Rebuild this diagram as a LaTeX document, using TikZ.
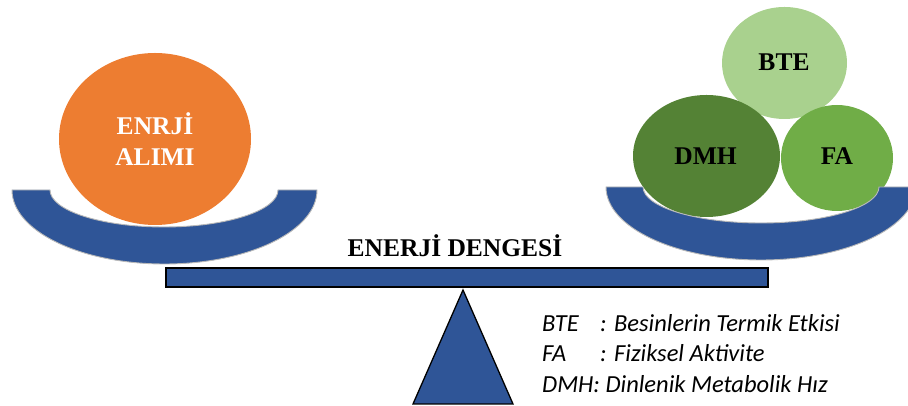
\documentclass[tikz,border=0pt]{standalone}
\usepackage{fontspec}
\setmainfont{Liberation Serif}
\newfontfamily\legendfont{Carlito}
\usetikzlibrary{shapes.geometric}
\definecolor{bowlblue}{HTML}{2F5597}
\definecolor{orangeC}{HTML}{ED7D31}
\definecolor{lightG}{HTML}{A9D18E}
\definecolor{darkG}{HTML}{548235}
\definecolor{midG}{HTML}{70AD47}
\tikzset{
  blob/.style={ellipse, inner sep=0pt, align=center, font=\fontsize{25.5}{31}\selectfont\bfseries},
  bowl/.style={fill=bowlblue, draw=gray!55, line width=0.9pt},
  solidpart/.style={fill=bowlblue, draw=black, line width=1.3pt},
  blobtext/.style={anchor=base, inner sep=0pt, font=\fontsize{25.5}{25.5}\selectfont\bfseries},
  legend/.style={anchor=base west, inner sep=0pt, font=\legendfont\itshape\fontsize{24.5}{24.5}\selectfont}
}
\begin{document}
\begin{tikzpicture}[x=1pt,y=1pt]
\useasboundingbox (0,0) rectangle (908,406);
\clip (0,0) rectangle (908,406);

% left pan content
\node (alim) [blob, fill=orangeC, text=white, minimum width=192pt, minimum height=172pt] at (155,267) {ENRJİ\\ALIMI};

% right pan content
\node (bte) [blob, fill=lightG, minimum width=125pt, minimum height=112pt] at (784.5,343) {};
\node (dmh) [blob, fill=darkG, minimum width=147pt, minimum height=122pt] at (706.5,250) {};
\node (fa) [blob, fill=midG, minimum width=112pt, minimum height=106pt] at (837,248) {};
\node (btet) [blobtext] at (784,335) {BTE};
\node (dmht) [blobtext] at (705.5,241) {DMH};
\node (fat) [blobtext] at (837,241) {FA};

% bowls
\path[bowl] (12,216) arc[start angle=180, end angle=360, x radius=152.5, y radius=74]
  -- (278,216) arc[start angle=0, end angle=-180, x radius=114, y radius=37] -- cycle;
\path[bowl] (606,219) arc[start angle=180, end angle=360, x radius=155, y radius=73]
  -- (879,219) arc[start angle=0, end angle=-180, x radius=118, y radius=36] -- cycle;

% title
\node (title) [blobtext] at (455,149) {ENERJİ DENGESİ};

% beam and fulcrum
\node (beam) [solidpart, rectangle, minimum width=602pt, minimum height=19pt, inner sep=0pt] at (467,128.5) {};
\coordinate (apex) at (463,116);
\coordinate (bl) at (413,2);
\coordinate (br) at (513,2);
\draw[solidpart, line join=miter] (apex) -- (br) -- (bl) -- cycle;

% legend
\node (l1a) [legend] at (542,74) {BTE};
\node (l1b) [legend] at (600,74) {: Besinlerin Termik Etkisi};
\node (l2a) [legend] at (542,44) {FA};
\node (l2b) [legend] at (600,44) {: Fiziksel Aktivite};
\node (l3) [legend] at (542,13) {DMH: Dinlenik Metabolik Hız};
\end{tikzpicture}
\end{document}
